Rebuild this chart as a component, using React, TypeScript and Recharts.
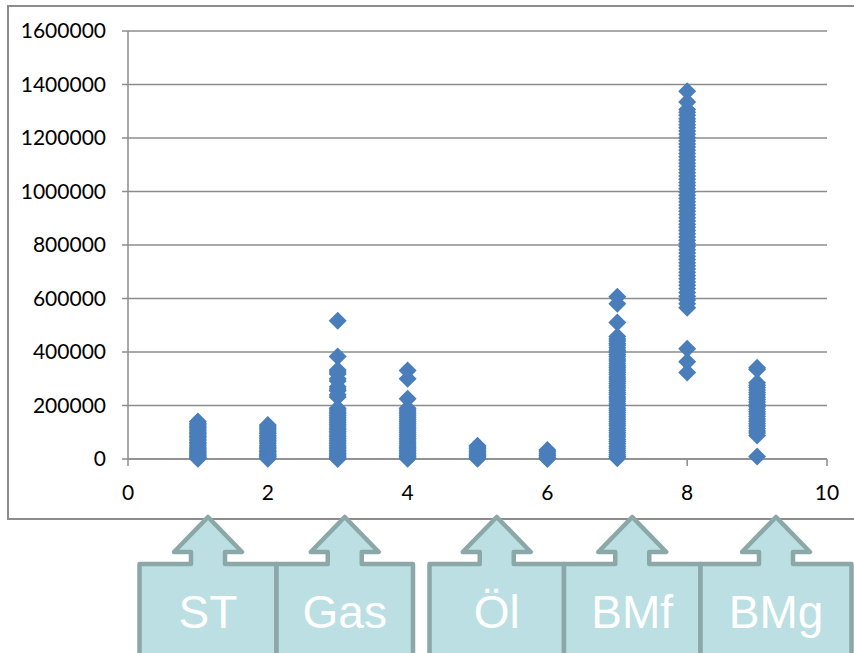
import React from "react";
import { ScatterChart, Scatter, XAxis, YAxis, CartesianGrid } from "recharts";

const xCategories = [1, 2, 3, 4, 5, 6, 7, 8, 9];

const valuesAt1 = [140000, 134000, 128000, 122000, 117000, 112000, 106000, 100000, 95000, 90000, 85000, 80000, 74000, 68000, 62000, 57000, 51000, 45000, 40000, 35000, 30000, 26000, 22000, 18000, 14000, 10000, 6000, 3000, 1000];
const valuesAt2 = [127000, 121000, 115000, 108000, 101000, 95000, 88000, 82000, 76000, 70000, 64000, 57000, 50000, 44000, 38000, 32000, 27000, 22000, 17000, 12000, 8000, 4000, 1000];
const valuesAt3 = [517000, 383000, 333000, 325000, 318000, 300000, 292000, 270000, 262000, 255000, 240000, 232000, 190000, 183000, 176000, 170000, 163000, 156000, 150000, 143000, 136000, 130000, 123000, 116000, 110000, 103000, 97000, 90000, 84000, 77000, 70000, 64000, 57000, 50000, 44000, 38000, 32000, 26000, 20000, 15000, 10000, 5000, 0];
const valuesAt4 = [331000, 300000, 225000, 190000, 183000, 176000, 169000, 162000, 155000, 148000, 141000, 134000, 127000, 120000, 113000, 106000, 99000, 92000, 85000, 78000, 71000, 64000, 57000, 50000, 44000, 38000, 32000, 26000, 20000, 14000, 9000, 4000, 1000];
const valuesAt5 = [50000, 45000, 40000, 34000, 28000, 22000, 17000, 12000, 8000, 4000, 1000];
const valuesAt6 = [34000, 27000, 20000, 13000, 7000, 3000, 0];
const valuesAt7 = [607000, 580000, 510000, 458000, 449000, 441000, 432000, 425000, 416000, 407000, 399000, 391000, 383000, 374000, 366000, 357000, 349000, 341000, 333000, 324000, 316000, 307000, 299000, 291000, 282000, 274000, 266000, 257000, 249000, 241000, 232000, 224000, 216000, 207000, 199000, 190000, 182000, 174000, 165000, 157000, 149000, 140000, 132000, 124000, 115000, 107000, 98000, 90000, 82000, 73000, 65000, 57000, 48000, 40000, 32000, 24000, 16000, 9000, 3000];
const valuesAt8 = [1375000, 1335000, 1307000, 1296000, 1285000, 1272000, 1262000, 1250000, 1238000, 1226000, 1214000, 1202000, 1190000, 1178000, 1166000, 1154000, 1142000, 1130000, 1118000, 1106000, 1094000, 1082000, 1070000, 1058000, 1046000, 1034000, 1022000, 1010000, 998000, 986000, 974000, 962000, 950000, 938000, 926000, 914000, 902000, 890000, 878000, 866000, 854000, 842000, 830000, 818000, 806000, 794000, 782000, 770000, 758000, 746000, 734000, 722000, 710000, 698000, 686000, 674000, 662000, 650000, 636000, 622000, 608000, 594000, 580000, 565000, 412000, 364000, 323000];
const valuesAt9 = [341000, 335000, 285000, 276000, 267000, 258000, 249000, 240000, 231000, 222000, 213000, 204000, 195000, 186000, 177000, 168000, 159000, 150000, 141000, 132000, 123000, 114000, 105000, 97000, 88000, 9000];

const xTicks = [0, 2, 4, 6, 8, 10];
const yTicks = [0, 200000, 400000, 600000, 800000, 1000000, 1200000, 1400000, 1600000];

// labels of the arrow boxes under the chart
const calloutLabels = ["ST", "Gas", "Öl", "BMf", "BMg"];

const allValues = [valuesAt1, valuesAt2, valuesAt3, valuesAt4, valuesAt5, valuesAt6, valuesAt7, valuesAt8, valuesAt9];
const points = xCategories.flatMap((x, i) => allValues[i].map((y) => ({ x, y })));

// box left/right edges for the callouts (layout only)
const calloutBoxes: [number, number][] = [
  [139.5, 276.5],
  [276.5, 413],
  [429.5, 564],
  [564, 700.5],
  [700.5, 851.5],
];

const GRID = "#8c8c8c";

function Diamond(props: any) {
  const { cx, cy } = props;
  if (cx == null || cy == null) return null;
  const r = 9;
  return (
    <path
      d={`M${cx},${cy - r}L${cx + r},${cy}L${cx},${cy + r}L${cx - r},${cy}Z`}
      fill="#4A7EBB"
    />
  );
}

function calloutPath(left: number, right: number) {
  const top = 564;
  const bottom = 720;
  const c = (left + right) / 2;
  const stem = 17;
  const head = 34;
  const headY = 552;
  const tipY = 517;
  return [
    `M${left},${top}`,
    `L${c - stem},${top}`,
    `L${c - stem},${headY}`,
    `L${c - head},${headY}`,
    `L${c},${tipY}`,
    `L${c + head},${headY}`,
    `L${c + stem},${headY}`,
    `L${c + stem},${top}`,
    `L${right},${top}`,
    `L${right},${bottom}`,
    `L${left},${bottom}`,
    "Z",
  ].join("");
}

export default function App() {
  const tickStyle = { fill: "#000", fontSize: 21, fontFamily: "Lato, sans-serif" };
  return (
    <div style={{ position: "absolute", left: 0, top: 0, width: 854, height: 653, overflow: "hidden", background: "#fff" }}>
      <div style={{ position: "absolute", left: 0, top: 0 }}>
        <ScatterChart width={854} height={520} margin={{ top: 31, right: 27, bottom: 31, left: 0 }}>
          <CartesianGrid vertical={false} stroke={GRID} strokeWidth={1.5} />
          <XAxis
            type="number"
            dataKey="x"
            domain={[0, 10]}
            ticks={xTicks}
            height={30}
            tickSize={7}
            tickMargin={19}
            axisLine={{ stroke: GRID, strokeWidth: 1.5 }}
            tickLine={{ stroke: GRID, strokeWidth: 1.5 }}
            tick={tickStyle}
            interval={0}
          />
          <YAxis
            type="number"
            dataKey="y"
            domain={[0, 1600000]}
            ticks={yTicks}
            width={128}
            tickSize={6}
            tickMargin={16}
            axisLine={{ stroke: GRID, strokeWidth: 1.5 }}
            tickLine={{ stroke: GRID, strokeWidth: 1.5 }}
            tick={tickStyle}
            interval={0}
          />
          <Scatter data={points} shape={Diamond} isAnimationActive={false} />
        </ScatterChart>
      </div>
      <svg width={854} height={653} style={{ position: "absolute", left: 0, top: 0, pointerEvents: "none" }}>
        <rect x={8} y={6} width={860} height={513} fill="none" stroke={GRID} strokeWidth={2} />
        {calloutBoxes.map(([l, r], i) => (
          <g key={calloutLabels[i]}>
            <path d={calloutPath(l, r)} fill="#BBDFE2" stroke="#8BA7A8" strokeWidth={4.5} strokeLinejoin="round" />
            <text
              x={(l + r) / 2}
              y={628}
              textAnchor="middle"
              fill="#fff"
              fontSize={46}
              fontFamily="Liberation Sans, Arial, sans-serif"
            >
              {calloutLabels[i]}
            </text>
          </g>
        ))}
      </svg>
    </div>
  );
}
